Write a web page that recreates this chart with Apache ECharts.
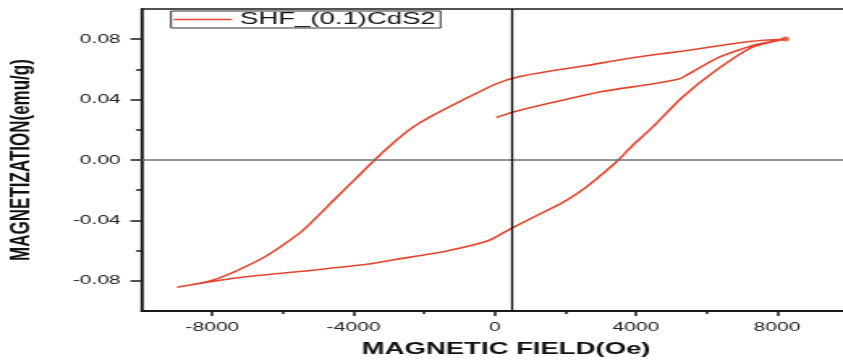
<!DOCTYPE html>
<html>
<head>
<meta charset="utf-8">
<title>SHF_(0.1)CdS2 hysteresis</title>
<script src="https://cdn.jsdelivr.net/npm/echarts@6/dist/echarts.min.js"></script>
<style>
  html, body { margin: 0; padding: 0; background: #fff; overflow: hidden; }
  /* the source figure is stretched sideways, so the chart is drawn narrow and widened */
  #chart { width: 521px; height: 362px; transform: scaleX(1.618); transform-origin: 0 0; }
</style>
</head>
<body>
<div id="chart"></div>
<script>
// field (Oe) / magnetization (emu/g)
var seriesName = 'SHF_(0.1)CdS2'
var initialField = [48, 473, 1623, 3040, 4456, 5212, 5402, 6346, 7289, 8235]
var initialMag = [0.0281, 0.0314, 0.0380, 0.0454, 0.0503, 0.0536, 0.0558, 0.0679, 0.0757, 0.0801]
var downField = [8235, 7289, 6346, 5402, 4456, 3513, 2569, 1623, 680, 20, -926, -1870, -2343, -2813, -3380, -3946, -4513, -5459, -6402, -7346, -8102, -9000]
var downMag = [0.0801, 0.0786, 0.0757, 0.0724, 0.0695, 0.0662, 0.0624, 0.0591, 0.0551, 0.0503, 0.0395, 0.0281, 0.0214, 0.0126, 0.0005, -0.0125, -0.0255, -0.0471, -0.0626, -0.0737, -0.0803, -0.0843]
var upField = [-9000, -7346, -5459, -3569, -2813, -1397, -170, 445, 1057, 1907, 2569, 3040, 3493, 3890, 4456, 5306, 6252, 7289, 8235]
var upMag = [-0.0843, -0.0782, -0.0737, -0.0689, -0.0659, -0.0604, -0.0533, -0.0456, -0.0383, -0.0284, -0.0184, -0.0095, -0.0002, 0.0093, 0.0214, 0.0414, 0.0591, 0.0746, 0.0801]
var tipField = [8235]
var tipMag = [0.0801]

var xMajorTicks = [-8000, -4000, 0, 4000, 8000]
var xMinorTicks = [-6000, -2000, 2000, 6000]
var yMajorTicks = [-0.08, -0.04, 0, 0.04, 0.08]
var yMinorTicks = [-0.06, -0.02, 0.02, 0.06]
var zeroLineY = 0
var markerLineX = 473

function pairs(xs, ys) {
  return xs.map(function (x, i) { return [x, ys[i]] })
}

var loop = pairs(initialField, initialMag)
  .concat(pairs(downField, downMag).slice(1))
  .concat(pairs(upField, upMag).slice(1))

var red = '#e5452f'
var axisColor = '#1a1a1a'
var chart = echarts.init(document.getElementById('chart'))

chart.setOption({
  animation: false,
  backgroundColor: '#fff',
  textStyle: { fontFamily: 'Liberation Sans, Arial, sans-serif' },
  grid: {
    left: 87.6,
    top: 9,
    width: 436.3,
    height: 302,
    outerBoundsMode: 'none',
    containLabel: false,
    show: true,
    borderColor: axisColor,
    borderWidth: 1.5,
    backgroundColor: 'transparent'
  },
  legend: {
    data: [seriesName],
    left: 105.7,
    top: 11,
    orient: 'horizontal',
    itemWidth: 36,
    itemHeight: 10,
    itemStyle: { opacity: 0 },
    lineStyle: { color: red, width: 1.3 },
    padding: [0, 3, 0, 1],
    backgroundColor: '#fff',
    borderColor: '#333',
    borderWidth: 1,
    borderRadius: 0,
    textStyle: { fontSize: 17, color: '#111', fontFamily: 'Liberation Sans' }
  },
  xAxis: [{
    type: 'value',
    min: -10000,
    max: 10000,
    name: 'MAGNETIC FIELD(Oe)',
    nameLocation: 'middle',
    nameGap: 30,
    nameTextStyle: { fontSize: 17, fontWeight: 'bold', color: '#111', padding: [0, 0, 0, 14] },
    axisLine: { show: true, onZero: false, lineStyle: { color: axisColor, width: 2 } },
    axisTick: { show: true, customValues: xMajorTicks, length: 5, lineStyle: { color: axisColor, width: 1.5 } },
    axisLabel: {
      customValues: xMajorTicks,
      margin: 10,
      fontSize: 13,
      color: '#222',
      formatter: function (v) { return String(v) }
    },
    splitLine: { show: false }
  }, {
    type: 'value',
    position: 'bottom',
    min: -10000,
    max: 10000,
    axisLine: { show: false, onZero: false },
    axisTick: { show: true, customValues: xMinorTicks, length: 3, lineStyle: { color: axisColor, width: 1.5 } },
    axisLabel: { show: false },
    splitLine: { show: false }
  }],
  yAxis: [{
    type: 'value',
    min: -0.1,
    max: 0.1,
    name: 'MAGNETIZATION(emu/g)',
    nameLocation: 'middle',
    nameGap: 66,
    nameRotate: 90,
    nameTextStyle: { fontSize: 17, fontWeight: 'bold', color: '#111' },
    axisLine: { show: true, onZero: false, lineStyle: { color: axisColor, width: 1.5 } },
    axisTick: { show: true, customValues: yMajorTicks, length: 7, lineStyle: { color: axisColor, width: 1.5 } },
    axisLabel: {
      customValues: yMajorTicks,
      margin: 13,
      fontSize: 13,
      color: '#222',
      formatter: function (v) { return v.toFixed(2) }
    },
    splitLine: { show: false }
  }, {
    type: 'value',
    position: 'left',
    min: -0.1,
    max: 0.1,
    axisLine: { show: false, onZero: false },
    axisTick: { show: true, customValues: yMinorTicks, length: 3.5, lineStyle: { color: axisColor, width: 1.5 } },
    axisLabel: { show: false },
    splitLine: { show: false }
  }],
  series: [{
    name: seriesName,
    type: 'line',
    data: loop,
    smooth: 0.2,
    symbol: 'none',
    lineStyle: { color: red, width: 1.6 },
    itemStyle: { color: red },
    markLine: {
      silent: true,
      symbol: 'none',
      label: { show: false },
      data: [
        { yAxis: zeroLineY, lineStyle: { color: '#707070', width: 1.5, type: 'solid' } },
        { xAxis: markerLineX, lineStyle: { color: '#111', width: 1.3, type: 'solid' } }
      ]
    }
  }, {
    name: 'tip',
    type: 'scatter',
    data: pairs(tipField, tipMag),
    symbolSize: 5,
    itemStyle: { color: red }
  }]
})
</script>
</body>
</html>
